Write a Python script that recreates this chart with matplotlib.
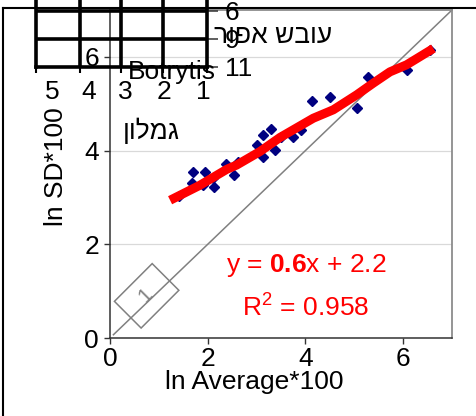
import matplotlib.pyplot as plt
from matplotlib.lines import Line2D

plt.rcParams['font.family'] = ['Liberation Sans', 'DejaVu Sans']
plt.rcParams['mathtext.fontset'] = 'custom'
plt.rcParams['mathtext.rm'] = 'Liberation Sans'
plt.rcParams['mathtext.bf'] = 'Liberation Sans:bold'

# ln(mean*100) vs ln(SD*100) per sample
ln_avg = [1.42, 1.67, 1.69, 1.91, 1.94, 2.11, 2.13, 2.37, 2.54, 2.61, 3.00, 3.14,
          3.14, 3.29, 3.38, 3.50, 3.75, 3.90, 4.13, 4.50, 5.05, 5.29, 6.08, 6.55]
ln_sd = [3.02, 3.30, 3.55, 3.27, 3.55, 3.41, 3.22, 3.71, 3.48, 3.76, 4.12, 4.33,
         3.87, 4.47, 4.01, 4.28, 4.30, 4.44, 5.06, 5.14, 4.91, 5.58, 5.73, 6.15]

# smoothed trend through the samples
trend_x = [1.23, 1.84, 2.39, 2.59, 3.07, 3.48, 4.16, 4.57, 5.05, 5.39, 5.73, 6.07, 6.62]
trend_y = [2.94, 3.26, 3.60, 3.69, 3.98, 4.28, 4.69, 4.87, 5.19, 5.44, 5.68, 5.83, 6.18]

slope, intercept, r2 = 0.6, 2.2, 0.958
ref_ends = [0.07, 7.0]          # slope-1 reference line
axis_ticks = [0, 2, 4, 6]

# small scale table pasted over the corner
table_cols = ['5', '4', '3', '2', '1']
table_rows = ['6', '9', '11']

W, H = 477, 416
fig = plt.figure(figsize=(W / 100, H / 100), dpi=100)
fig.patch.set_facecolor('white')

ax = fig.add_axes([110 / W, 1 - 338 / H, 342 / W, 328 / H])
ax.set_xlim(0, 7)
ax.set_ylim(0, 7)
ax.set_xticks(axis_ticks)
ax.set_yticks(axis_ticks)
ax.yaxis.grid(True, color='#d9d9d9', lw=0.9)
ax.set_axisbelow(True)
for s in ['left', 'bottom']:
    ax.spines[s].set_color('#333333')
    ax.spines[s].set_linewidth(1.1)
for s in ['top', 'right']:
    ax.spines[s].set_color('#8c8c8c')
    ax.spines[s].set_linewidth(1.3)
ax.tick_params(direction='out', length=4, width=1, color='#333333', labelsize=19)
ax.tick_params(axis='x', pad=2.5)
ax.tick_params(axis='y', pad=4)

ax.plot(ref_ends, ref_ends, color='#808080', lw=1.1, zorder=2)
ax.plot(ln_avg, ln_sd, ls='none', marker='D', ms=5.6, color='#000080',
        mec='#000080', mew=1, zorder=3)
ax.plot(trend_x, trend_y, color='#ff0000', lw=6.5, solid_capstyle='butt',
        solid_joinstyle='round', zorder=4)

ax.text(4.01, 1.41, rf'y = $\mathbf{{{slope}}}$x + {intercept}', color='#ff0000',
        fontsize=19, ha='center', va='baseline')
ax.text(4.0, 0.47, f'R$^2$ = {r2}', color='#ff0000', fontsize=19,
        ha='center', va='baseline')

ax.text(0.75, 0.9, '  1  ', rotation=45, rotation_mode='anchor', ha='center',
        va='center', fontsize=15, color='#808080',
        bbox=dict(boxstyle='square,pad=0.45', fc='none', ec='#808080', lw=1.1))

ax.text(0.85, 4.42, 'גמלון'[::-1], fontsize=19, ha='center', va='center')

ax.set_xlabel('ln Average*100', fontsize=19, va='center')
ax.xaxis.set_label_coords(0.421, -0.134)
ax.set_ylabel('ln SD*100', fontsize=19, va='center')
ax.yaxis.set_label_coords(-0.158, 0.521)

# overlaid table grid
tab = fig.add_axes([36 / W, 1 - 67 / H, 171 / W, 67 / H])
tab.set_facecolor('none')
tab.set_xlim(0, 1)
tab.set_ylim(0, 1)
col_edges = [0, 0.257, 0.497, 0.743, 1]
col_label_pos = [0.094, 0.31, 0.52, 0.749, 0.977]
row_edges = [0.836, 0.418, 0]
tab.set_xticks(col_edges)
tab.set_xticklabels([])
tab.set_xticks(col_label_pos, minor=True)
tab.set_xticklabels(table_cols, minor=True)
tab.tick_params(axis='x', which='major', length=4.3, width=1.5, color='k')
tab.tick_params(axis='x', which='minor', length=0, pad=9.5, labelsize=19)
tab.yaxis.tick_right()
tab.set_yticks(row_edges)
tab.set_yticklabels(table_rows)
tab.tick_params(axis='y', length=8, width=1.1, color='#333333', pad=5, labelsize=19)
for x in col_edges[1:-1]:
    tab.axvline(x, color='k', lw=2.6)
for y in row_edges[:2]:
    tab.axhline(y, color='k', lw=2.6)
for s in ['left', 'right', 'bottom']:
    tab.spines[s].set_linewidth(2.6)
    tab.spines[s].set_color('k')
tab.spines['top'].set_visible(False)

fig.text(171.5 / W, 1 - 72 / H, 'Botrytis', fontsize=19, ha='center', va='center')
fig.text(273 / W, 1 - 36 / H, 'עובש אפור'[::-1], fontsize=19, ha='center', va='center')

# outer frame
fig.add_artist(Line2D([3 / W, 3 / W], [0, 1 - 8 / H], transform=fig.transFigure,
                      color='k', lw=1.5))
fig.add_artist(Line2D([3 / W, 1], [1 - 8 / H, 1 - 8 / H], transform=fig.transFigure,
                      color='k', lw=1.5))

fig.savefig('out.png', dpi=100)
